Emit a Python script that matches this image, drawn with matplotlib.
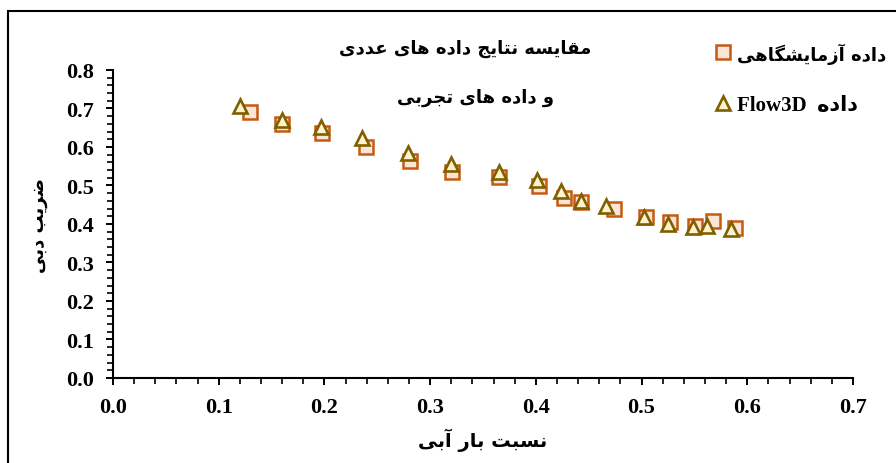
import numpy as np
import matplotlib
matplotlib.use('Agg')
import matplotlib.pyplot as plt
from matplotlib.patches import Rectangle
from matplotlib.ticker import MultipleLocator

# ---- data ----
lab_x = [0.130, 0.160, 0.198, 0.239, 0.281, 0.321, 0.365, 0.403, 0.427, 0.443,
         0.474, 0.504, 0.527, 0.551, 0.568, 0.588]
lab_y = [0.690, 0.660, 0.636, 0.601, 0.563, 0.536, 0.523, 0.498, 0.468, 0.458,
         0.439, 0.419, 0.406, 0.395, 0.407, 0.389]
num_x = [0.120, 0.160, 0.197, 0.236, 0.279, 0.320, 0.365, 0.401, 0.424, 0.443,
         0.466, 0.502, 0.525, 0.549, 0.562, 0.585]
num_y = [0.707, 0.670, 0.651, 0.623, 0.584, 0.556, 0.534, 0.514, 0.485, 0.461,
         0.448, 0.417, 0.400, 0.393, 0.394, 0.388]

title1 = 'مقایسه نتایج داده های عددی'
title2 = 'و داده های تجربی'
leg_lab = 'داده آزمایشگاهی'
leg_num = 'داده'
xlab = 'نسبت بار آبی'
ylab = 'ضریب دبی'

# ---- tiny persian shaper (matplotlib has no arabic shaping / bidi) ----
# forms: isolated, final, initial, medial
FORMS = {
    'ا': ('\uFE8D', '\uFE8E', None, None),
    'آ': ('\uFE81', '\uFE82', None, None),
    'ب': ('\uFE8F', '\uFE90', '\uFE91', '\uFE92'),
    'ت': ('\uFE95', '\uFE96', '\uFE97', '\uFE98'),
    'ج': ('\uFE9D', '\uFE9E', '\uFE9F', '\uFEA0'),
    'د': ('\uFEA9', '\uFEAA', None, None),
    'ر': ('\uFEAD', '\uFEAE', None, None),
    'ز': ('\uFEAF', '\uFEB0', None, None),
    'س': ('\uFEB1', '\uFEB2', '\uFEB3', '\uFEB4'),
    'ش': ('\uFEB5', '\uFEB6', '\uFEB7', '\uFEB8'),
    'ض': ('\uFEBD', '\uFEBE', '\uFEBF', '\uFEC0'),
    'ع': ('\uFEC9', '\uFECA', '\uFECB', '\uFECC'),
    'ق': ('\uFED5', '\uFED6', '\uFED7', '\uFED8'),
    'م': ('\uFEE1', '\uFEE2', '\uFEE3', '\uFEE4'),
    'ن': ('\uFEE5', '\uFEE6', '\uFEE7', '\uFEE8'),
    'و': ('\uFEED', '\uFEEE', None, None),
    'ه': ('\uFEE9', '\uFEEA', '\uFEEB', '\uFEEC'),
    'ی': ('\uFBFC', '\uFBFD', '\uFBFE', '\uFBFF'),
    'گ': ('\uFB92', '\uFB93', '\uFB94', '\uFB95'),
}


def shape(text):
    out = []
    for i, c in enumerate(text):
        if c not in FORMS:
            out.append(c)
            continue
        prev = text[i - 1] if i > 0 else None
        nxt = text[i + 1] if i + 1 < len(text) else None
        jp = prev in FORMS and FORMS[prev][2] is not None
        jn = nxt in FORMS and FORMS[c][2] is not None
        iso, fin, ini, med = FORMS[c]
        if jp and jn:
            out.append(med)
        elif jp:
            out.append(fin)
        elif jn:
            out.append(ini)
        else:
            out.append(iso)
    return ''.join(reversed(out))


FA = ['DejaVu Sans']
LAT = ['Liberation Serif', 'DejaVu Sans']

fig = plt.figure(figsize=(8.96, 4.64), dpi=100)
ax = fig.add_axes([0.1261, 0.1832, 0.8259, 0.6638])

ax.plot(lab_x, lab_y, linestyle='none', marker='s', markersize=10,
        markerfacecolor='#FBE5D6', markeredgecolor='#C55A11', markeredgewidth=1.8,
        label=shape(leg_lab))
ax.plot(num_x, num_y, linestyle='none', marker='^', markersize=10.5,
        markerfacecolor='#FFF2CC', markeredgecolor='#7F6000', markeredgewidth=1.9,
        label='Flow3D  ' + shape(leg_num))

ax.set_xlim(0, 0.7)
ax.set_ylim(0, 0.8)
ax.xaxis.set_major_locator(MultipleLocator(0.1))
ax.xaxis.set_minor_locator(MultipleLocator(0.02))
ax.yaxis.set_major_locator(MultipleLocator(0.1))
ax.yaxis.set_minor_locator(MultipleLocator(0.02))
ax.spines['top'].set_visible(False)
ax.spines['right'].set_visible(False)
for s in ['left', 'bottom']:
    ax.spines[s].set_linewidth(1.5)
ax.tick_params(which='major', direction='out', length=5, width=1.4, pad=9)
ax.tick_params(which='minor', direction='out', length=4, width=1.2)
ax.set_xticklabels(['%.1f' % v for v in ax.get_xticks()])
ax.set_yticklabels(['%.1f' % v for v in ax.get_yticks()])
for t in ax.get_xticklabels() + ax.get_yticklabels():
    t.set_family(LAT)
    t.set_fontweight('bold')
    t.set_fontsize(16)

fig.text(0.539, 0.05, shape(xlab), family=FA, fontweight='bold',
         fontsize=14, ha='center', va='center')
fig.text(0.043, 0.515, shape(ylab), family=FA, fontweight='bold', fontsize=13,
         ha='center', va='center', rotation=90)

fig.text(0.519, 0.895, shape(title1), family=FA, fontweight='bold', fontsize=13,
         ha='center', va='center')
fig.text(0.531, 0.79, shape(title2), family=FA, fontweight='bold', fontsize=13,
         ha='center', va='center')

leg = ax.legend(loc='upper left', bbox_to_anchor=(0.788, 0.929),
                bbox_transform=fig.transFigure, frameon=False,
                handlelength=0.6, handletextpad=0.4, labelspacing=1.5,
                borderpad=0, prop={'family': LAT, 'weight': 'bold', 'size': 15})
leg.get_texts()[0].set_fontsize(13)
leg.get_texts()[0].set_family(FA)

# page frame
fig.add_artist(Rectangle((8 / 896, -0.1), 1.2, 0.974 + 0.1, transform=fig.transFigure,
                         fill=False, edgecolor='black', linewidth=1.5))

fig.savefig('out.png', dpi=100)
